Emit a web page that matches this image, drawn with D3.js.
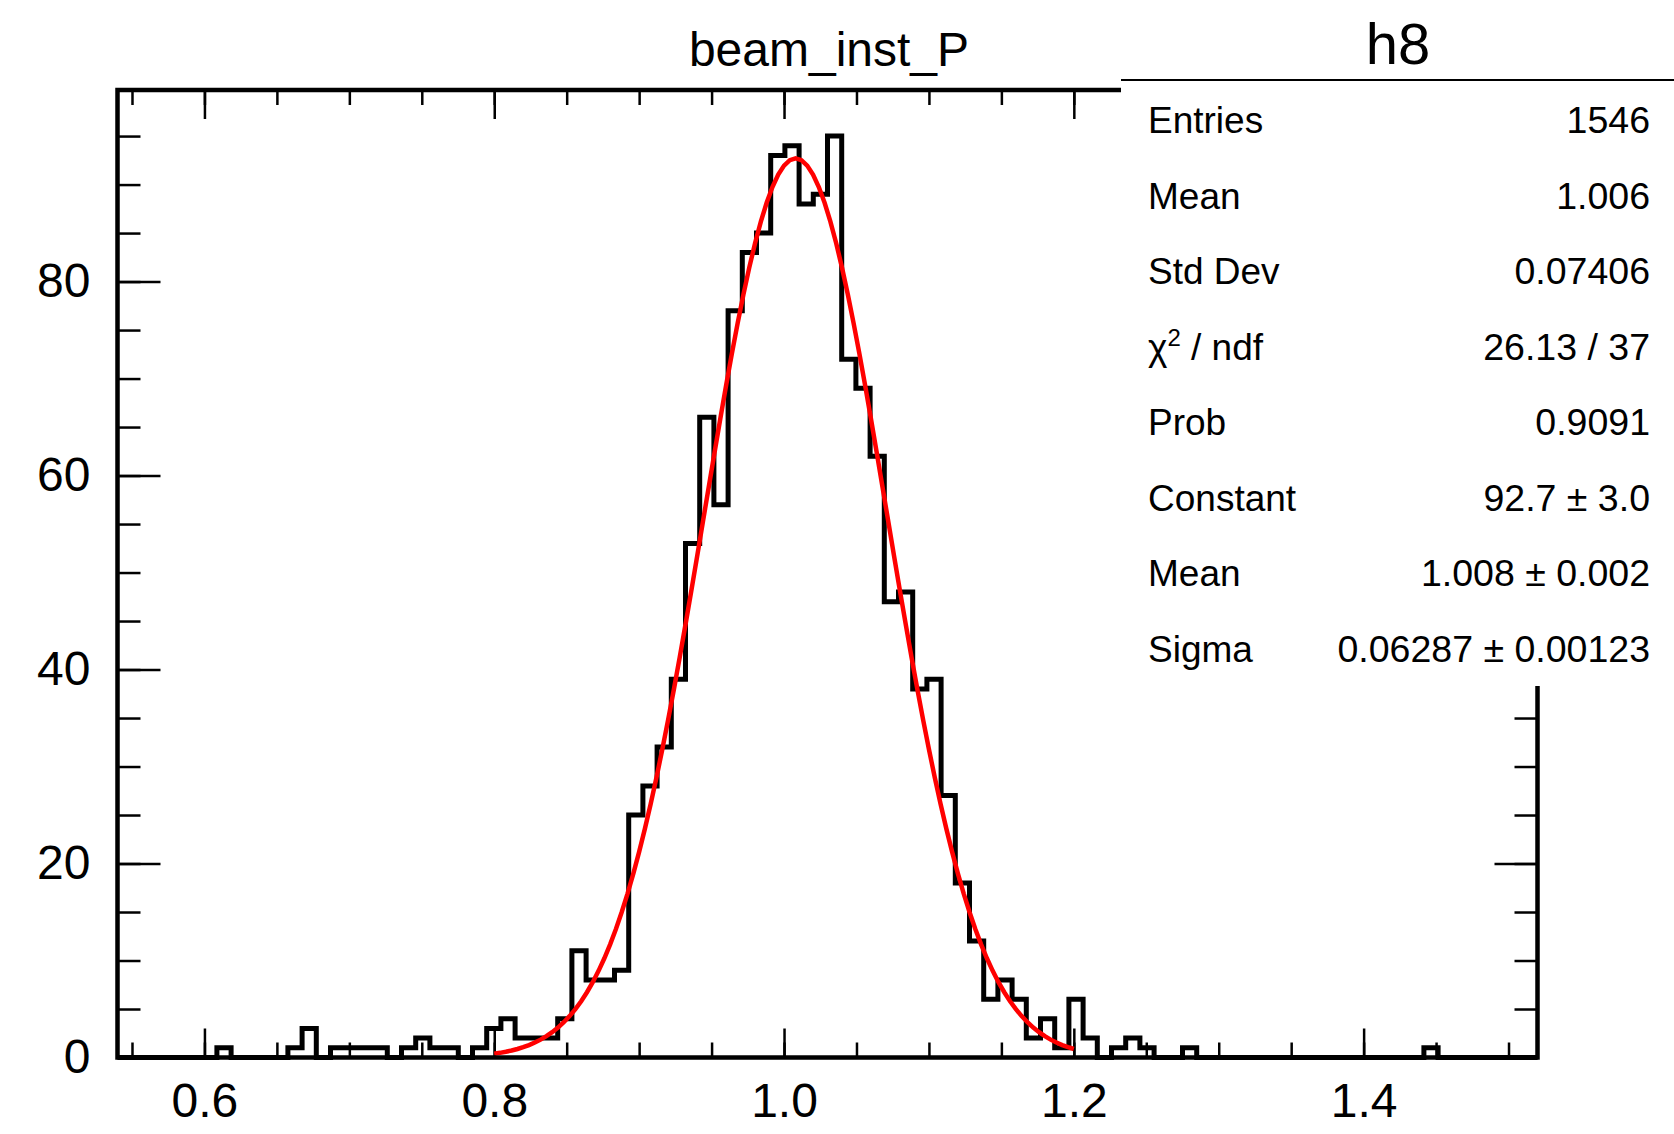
<!DOCTYPE html>
<html>
<head>
<meta charset="utf-8">
<script src="https://cdn.jsdelivr.net/npm/d3@7"></script>
<style>
  body { margin: 0; background: #fff; }
  svg { display: block; font-family: "Liberation Sans", Arial, Helvetica, sans-serif; }
</style>
</head>
<body>
<svg id="chart" width="1674" height="1134"></svg>
<script>
// histogram h8, 100 bins between binLow and binHigh
var histName = "h8";
var histTitle = "beam_inst_P";
var binLow = 0.54, binHigh = 1.52;
var binCounts = [
  0, 0, 0, 0, 0, 0, 0, 1, 0, 0,
  0, 0, 1, 3, 0, 1, 1, 1, 1, 0,
  1, 2, 1, 1, 0, 1, 3, 4, 2, 2,
  2, 4, 11, 8, 8, 9, 25, 28, 32, 39,
  53, 66, 57, 77, 83, 85, 93, 94, 88, 89,
  95, 72, 69, 62, 47, 48, 38, 39, 27, 18,
  12, 6, 8, 6, 2, 4, 1, 6, 2, 0,
  1, 2, 1, 0, 0, 1, 0, 0, 0, 0,
  0, 0, 0, 0, 0, 0, 0, 0, 0, 0,
  0, 0, 1, 0, 0, 0, 0, 0, 0, 0
];
var yMax = 99.75;

var xMajorTicks = [0.6, 0.8, 1.0, 1.2, 1.4];
var yMajorTicks = [0, 20, 40, 60, 80];

// gaus fit shown in red
var fitConstant = 92.7, fitMean = 1.008, fitSigma = 0.06287;
var fitRange = [0.8, 1.2];

var statLabels = ["Entries", "Mean", "Std Dev", "chi2", "Prob", "Constant", "Mean", "Sigma"];
var statValues = ["1546", "1.006", "0.07406", "26.13 / 37", "0.9091",
                  "92.7 \u00b1 3.0", "1.008 \u00b1 0.002", "0.06287 \u00b1 0.00123"];

/*****************/
/*    LAYOUT     */
/*****************/
var frame = { left: 117.5, right: 1537.5, top: 90, bottom: 1057.5 };
var svg = d3.select("#chart");

var x = d3.scaleLinear()
    .domain([binLow, binHigh])
    .range([frame.left, frame.right]);
var y = d3.scaleLinear()
    .domain([0, yMax])
    .range([frame.bottom, frame.top]);

var xMinor = d3.range(11, 31).map(function(i) { return +(i * 0.05).toFixed(2); });
var yMinor = d3.range(0, 100, 5);

function tickStyle(g, width) {
  g.select(".domain").remove();
  g.selectAll(".tick line").attr("stroke", "#000").attr("stroke-width", width);
  g.selectAll("text").remove();
}

// minor + major ticks on all four sides (pointing inward)
svg.append("g").attr("transform", "translate(0," + frame.bottom + ")")
    .call(d3.axisBottom(x).tickValues(xMinor).tickSize(-15))
    .call(tickStyle, 2.5);
svg.append("g").attr("transform", "translate(0," + frame.top + ")")
    .call(d3.axisTop(x).tickValues(xMinor).tickSize(-15))
    .call(tickStyle, 2.5);
svg.append("g").attr("transform", "translate(0," + frame.bottom + ")")
    .call(d3.axisBottom(x).tickValues(xMajorTicks).tickSize(-29))
    .call(tickStyle, 2.5);
svg.append("g").attr("transform", "translate(0," + frame.top + ")")
    .call(d3.axisTop(x).tickValues(xMajorTicks).tickSize(-29))
    .call(tickStyle, 2.5);

svg.append("g").attr("transform", "translate(" + frame.left + ",0)")
    .call(d3.axisLeft(y).tickValues(yMinor).tickSize(-23))
    .call(tickStyle, 2.5);
svg.append("g").attr("transform", "translate(" + frame.right + ",0)")
    .call(d3.axisRight(y).tickValues(yMinor).tickSize(-23))
    .call(tickStyle, 2.5);
svg.append("g").attr("transform", "translate(" + frame.left + ",0)")
    .call(d3.axisLeft(y).tickValues(yMajorTicks).tickSize(-43))
    .call(tickStyle, 2.5);
svg.append("g").attr("transform", "translate(" + frame.right + ",0)")
    .call(d3.axisRight(y).tickValues(yMajorTicks).tickSize(-43))
    .call(tickStyle, 2.5);

// tick labels
var xLab = svg.append("g")
    .attr("transform", "translate(0," + frame.bottom + ")")
    .call(d3.axisBottom(x).tickValues(xMajorTicks).tickSize(0).tickPadding(25)
      .tickFormat(d3.format(".1f")));
xLab.select(".domain").remove();
xLab.selectAll("text").attr("font-size", 48).attr("fill", "#000")
    .attr("font-family", "'Liberation Sans', Arial, sans-serif");

var yLab = svg.append("g")
    .attr("transform", "translate(" + frame.left + ",0)")
    .call(d3.axisLeft(y).tickValues(yMajorTicks).tickSize(0).tickPadding(27)
      .tickFormat(d3.format("d")));
yLab.select(".domain").remove();
yLab.selectAll("text").attr("font-size", 48).attr("fill", "#000")
    .attr("font-family", "'Liberation Sans', Arial, sans-serif");

/*****************/
/*   HISTOGRAM   */
/*****************/
var binWidth = (binHigh - binLow) / binCounts.length;
var steps = [[binLow, 0]];
binCounts.forEach(function(c, i) {
  var lo = binLow + i * binWidth;
  steps.push([lo, c], [lo + binWidth, c]);
});
steps.push([binHigh, 0]);

var line = d3.line()
    .x(function(d) { return x(d[0]); })
    .y(function(d) { return y(d[1]); });

svg.append("path")
    .datum(steps)
    .attr("d", line)
    .attr("fill", "none")
    .attr("stroke", "#000")
    .attr("stroke-width", 5)
    .attr("stroke-linejoin", "miter");

// fit function evaluated from its parameters over the fit range
var fitPts = d3.range(0, 101).map(function(i) {
  var v = fitRange[0] + i * (fitRange[1] - fitRange[0]) / 100;
  var t = (v - fitMean) / fitSigma;
  return [v, fitConstant * Math.exp(-0.5 * t * t)];
});
svg.append("path")
    .datum(fitPts)
    .attr("d", line)
    .attr("fill", "none")
    .attr("stroke", "#ff0000")
    .attr("stroke-width", 4.5);

// frame
svg.append("rect")
    .attr("x", frame.left).attr("y", frame.top)
    .attr("width", frame.right - frame.left)
    .attr("height", frame.bottom - frame.top)
    .attr("fill", "none")
    .attr("stroke", "#000")
    .attr("stroke-width", 4.5);

// title
svg.append("text")
    .attr("x", 829).attr("y", 66)
    .attr("text-anchor", "middle")
    .attr("font-size", 48)
    .text(histTitle);

/*****************/
/*   STATS BOX   */
/*****************/
var box = { left: 1121, top: 0, right: 1674, bottom: 686 };
svg.append("rect")
    .attr("x", box.left).attr("y", box.top)
    .attr("width", box.right - box.left)
    .attr("height", box.bottom - box.top)
    .attr("fill", "#fff");
svg.append("line")
    .attr("x1", box.left).attr("x2", box.right)
    .attr("y1", 80).attr("y2", 80)
    .attr("stroke", "#000").attr("stroke-width", 2);
svg.append("text")
    .attr("x", 1398).attr("y", 64)
    .attr("text-anchor", "middle")
    .attr("font-size", 58)
    .text(histName);

var rows = svg.append("g").selectAll("g")
    .data(statLabels)
    .enter().append("g")
      .attr("transform", function(d, i) { return "translate(0," + (133 + 75.5 * i) + ")"; });

rows.append("text")
    .attr("x", 1148)
    .attr("font-size", 37)
    .each(function(d) {
      var t = d3.select(this);
      if (d === "chi2") {
        t.append("tspan").text("\u03c7");
        t.append("tspan").attr("dy", -14).attr("font-size", 24).text("2");
        t.append("tspan").attr("dy", 14).text(" / ndf");
      } else {
        t.text(d);
      }
    });

rows.append("text")
    .attr("x", 1650)
    .attr("text-anchor", "end")
    .attr("font-size", 37.5)
    .text(function(d, i) { return statValues[i]; });
</script>
</body>
</html>
